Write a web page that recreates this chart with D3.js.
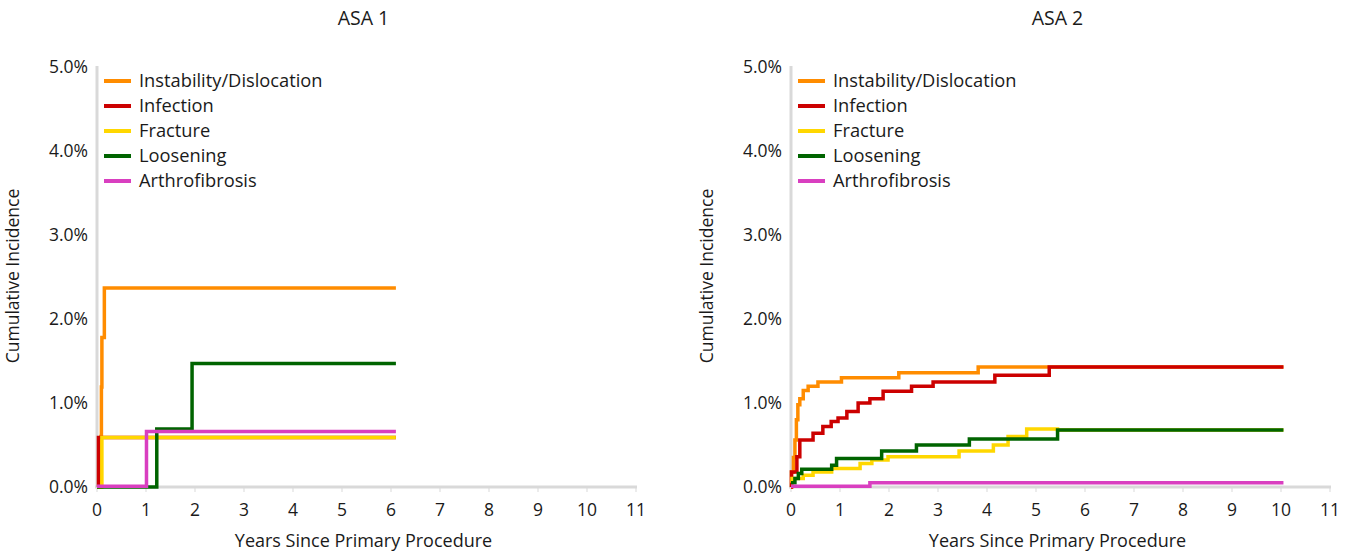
<!DOCTYPE html>
<html>
<head>
<meta charset="utf-8">
<script src="https://cdn.jsdelivr.net/npm/d3@7"></script>
<style>
  body { margin: 0; background: #fff; }
  text { font-family: "Open Sans", "Noto Sans", sans-serif; fill: #1a1a1a; }
</style>
</head>
<body>
<div id="chart"></div>
<script>
// series names + colours
const seriesNames = ["Instability/Dislocation", "Infection", "Fracture", "Loosening", "Arthrofibrosis"];
const seriesColors = ["#ff8c00", "#cc0000", "#ffd700", "#006400", "#d93fc0"];
const xTicks = [0, 1, 2, 3, 4, 5, 6, 7, 8, 9, 10, 11];
const yTicks = [0, 1, 2, 3, 4, 5];

// ASA 1: [years, cumulative %]
const asa1Instability = [[0, 0], [0.08, 0.6], [0.09, 1.19], [0.1, 1.78], [0.15, 2.37], [6.1, 2.37]];
const asa1Infection = [[0, 0], [0.03, 0.59], [6.1, 0.59]];
const asa1Fracture = [[0, 0], [0.1, 0.59], [6.1, 0.59]];
const asa1Loosening = [[0, 0], [1.22, 0.69], [1.94, 1.47], [6.1, 1.47]];
const asa1Arthrofibrosis = [[0, 0.01], [1.01, 0.66], [6.1, 0.66]];

// ASA 2
const asa2Instability = [[0, 0], [0.01, 0.18], [0.05, 0.35], [0.08, 0.56], [0.11, 0.8], [0.14, 0.98], [0.18, 1.05],
  [0.25, 1.15], [0.35, 1.2], [0.55, 1.25], [1.03, 1.3], [2.2, 1.36], [3.82, 1.43], [10.05, 1.43]];
const asa2Infection = [[0, 0], [0.01, 0.18], [0.12, 0.36], [0.18, 0.56], [0.45, 0.64], [0.65, 0.72], [0.82, 0.78],
  [0.96, 0.82], [1.14, 0.9], [1.37, 1.0], [1.61, 1.05], [1.88, 1.14], [2.46, 1.2], [2.9, 1.25],
  [4.16, 1.33], [5.27, 1.43], [10.05, 1.43]];
const asa2Fracture = [[0, 0.05], [0.02, 0.1], [0.25, 0.14], [0.45, 0.18], [0.83, 0.22], [1.41, 0.28], [1.65, 0.32],
  [1.98, 0.36], [3.43, 0.43], [4.13, 0.5], [4.43, 0.6], [4.81, 0.69], [5.44, 0.68], [10.05, 0.68]];
const asa2Loosening = [[0, 0.05], [0.08, 0.1], [0.15, 0.16], [0.22, 0.21], [0.83, 0.26], [0.93, 0.34], [1.85, 0.43],
  [2.56, 0.5], [3.64, 0.57], [5.44, 0.68], [10.05, 0.68]];
const asa2Arthrofibrosis = [[0, 0.01], [1.61, 0.05], [10.05, 0.05]];

const panels = [
  { title: "ASA 1", left: 97, series: [asa1Instability, asa1Infection, asa1Fracture, asa1Loosening, asa1Arthrofibrosis] },
  { title: "ASA 2", left: 791, series: [asa2Instability, asa2Infection, asa2Fracture, asa2Loosening, asa2Arthrofibrosis] }
];

const WIDTH = 1355, HEIGHT = 557;
const PLOT_W = 539, TOP = 67, BOTTOM = 487;

const svg = d3.select("#chart").append("svg")
  .attr("width", WIDTH)
  .attr("height", HEIGHT);

panels.forEach(p => {
  const x = d3.scaleLinear().domain([0, 11]).range([p.left, p.left + PLOT_W]);
  const y = d3.scaleLinear().domain([0, 5]).range([BOTTOM, TOP]);
  const g = svg.append("g");
  const cx = p.left + PLOT_W / 2 - 3;

  g.append("text")
    .attr("x", cx).attr("y", 25)
    .attr("text-anchor", "middle")
    .style("font-size", "19.5px")
    .text(p.title);

  // axes
  g.append("line")
    .attr("x1", x(0)).attr("x2", x(0))
    .attr("y1", y(5) - 1).attr("y2", y(0))
    .attr("stroke", "#d9d9d9").attr("stroke-width", 3);
  g.append("line")
    .attr("x1", x(0) - 2).attr("x2", x(11) + 1)
    .attr("y1", y(0)).attr("y2", y(0))
    .attr("stroke", "#d9d9d9").attr("stroke-width", 3);

  g.selectAll(".xt").data(xTicks).join("line")
    .attr("x1", d => x(d)).attr("x2", d => x(d))
    .attr("y1", y(0)).attr("y2", y(0) + 5)
    .attr("stroke", "#d9d9d9").attr("stroke-width", 1);

  g.selectAll(".xl").data(xTicks).join("text")
    .attr("x", d => x(d)).attr("y", y(0) + 29)
    .attr("text-anchor", "middle")
    .style("font-size", "17.5px")
    .text(d => d);

  g.selectAll(".yl").data(yTicks).join("text")
    .attr("x", x(0) - 9).attr("y", d => y(d))
    .attr("dy", "0.35em")
    .attr("text-anchor", "end")
    .style("font-size", "17.5px")
    .text(d => d3.format(".1f")(d) + "%");

  g.append("text")
    .attr("transform", `translate(${p.left - 78},276) rotate(-90)`)
    .attr("text-anchor", "middle")
    .style("font-size", "17.5px")
    .text("Cumulative Incidence");

  g.append("text")
    .attr("x", cx).attr("y", 547)
    .attr("text-anchor", "middle")
    .style("font-size", "18px")
    .text("Years Since Primary Procedure");

  const line = d3.line()
    .x(d => x(d[0]))
    .y(d => y(d[1]))
    .curve(d3.curveStepAfter);

  p.series.forEach((s, i) => {
    g.append("path")
      .datum(s)
      .attr("d", line)
      .attr("fill", "none")
      .attr("stroke", seriesColors[i])
      .attr("stroke-width", 3.5);
  });

  // legend
  const leg = g.append("g").attr("transform", `translate(${p.left + 7},81)`);
  seriesNames.forEach((n, i) => {
    leg.append("line")
      .attr("x1", 0).attr("x2", 27)
      .attr("y1", i * 25).attr("y2", i * 25)
      .attr("stroke", seriesColors[i]).attr("stroke-width", 4);
    leg.append("text")
      .attr("x", 35).attr("y", i * 25)
      .attr("dy", "0.35em")
      .style("font-size", "18.3px")
      .text(n);
  });
});
</script>
</body>
</html>
